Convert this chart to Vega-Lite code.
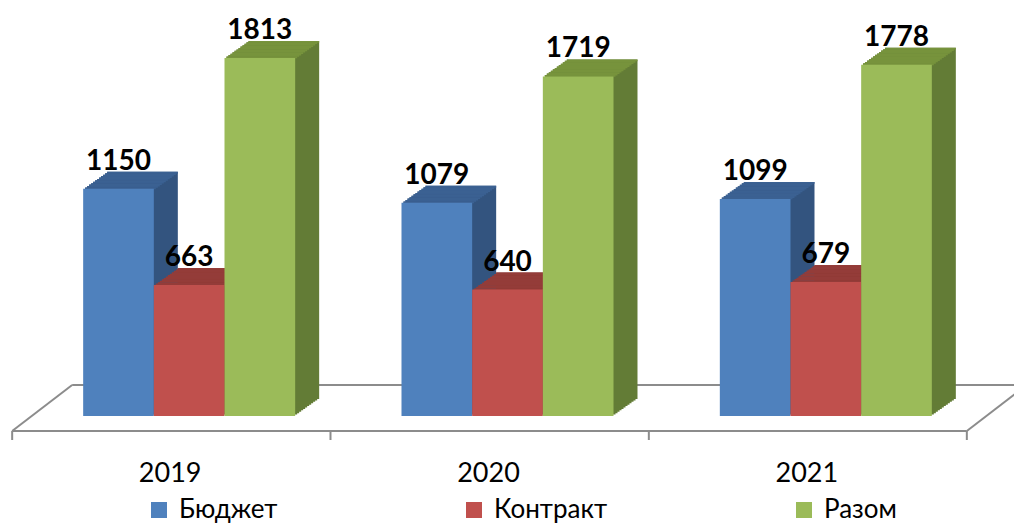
{
  "$schema": "https://vega.github.io/schema/vega-lite/v6.json",
  "width": 955,
  "height": 416,
  "padding": {"left": 30, "top": 0, "right": 29, "bottom": 108},
  "autosize": {"type": "none"},
  "background": "white",
  "config": {
    "view": {"stroke": null},
    "axisX": {"domain": false, "ticks": false, "tickSize": 0, "grid": false, "labelAngle": 0, "labelFont": "Lato", "labelFontSize": 27, "labelColor": "#000000", "labelPadding": 65, "labelBaseline": "alphabetic", "labelOffset": -19}
  },
  "data": {"values": [
    {"year": "2019", "series": "Бюджет", "value": 1150},
    {"year": "2019", "series": "Контракт", "value": 663},
    {"year": "2019", "series": "Разом", "value": 1813},
    {"year": "2020", "series": "Бюджет", "value": 1079},
    {"year": "2020", "series": "Контракт", "value": 640},
    {"year": "2020", "series": "Разом", "value": 1719},
    {"year": "2021", "series": "Бюджет", "value": 1099},
    {"year": "2021", "series": "Контракт", "value": 679},
    {"year": "2021", "series": "Разом", "value": 1778}
  ]},
  "resolve": {"scale": {"xOffset": "independent", "color": "independent"}},
  "layer": [
    {"data": {"values": [{}]}, "mark": {"type": "rule", "color": "#8c8c8c", "strokeWidth": 2, "xOffset": -71, "x2Offset": 35, "yOffset": 15},
     "encoding": {"x": {"datum": "2019", "type": "nominal", "bandPosition": 0, "title": null, "scale": {"paddingInner": 0.334, "paddingOuter": 0.167}}, "x2": {"datum": "2021", "bandPosition": 1}, "y": {"datum": 0, "type": "quantitative", "axis": null, "scale": {"domain": [0, 2106], "nice": false}}}},
    {"data": {"values": [{}]}, "mark": {"type": "rule", "color": "#8c8c8c", "strokeWidth": 2, "xOffset": -11, "x2Offset": 100, "yOffset": -31},
     "encoding": {"x": {"datum": "2019", "type": "nominal", "bandPosition": 0, "title": null}, "x2": {"datum": "2021", "bandPosition": 1}, "y": {"datum": 0, "type": "quantitative", "axis": null, "scale": {"domain": [0, 2106], "nice": false}}}},
    {"data": {"values": [{}]}, "mark": {"type": "rule", "color": "#8c8c8c", "strokeWidth": 2, "xOffset": -71, "x2Offset": -11, "yOffset": 15, "y2Offset": -31},
     "encoding": {"x": {"datum": "2019", "type": "nominal", "bandPosition": 0, "title": null}, "x2": {"datum": "2019", "bandPosition": 0}, "y": {"datum": 0, "type": "quantitative", "axis": null, "scale": {"domain": [0, 2106], "nice": false}}, "y2": {"datum": 0}}},
    {"data": {"values": [{}]}, "mark": {"type": "rule", "color": "#8c8c8c", "strokeWidth": 2, "xOffset": 35, "x2Offset": 95, "yOffset": 15, "y2Offset": -31},
     "encoding": {"x": {"datum": "2021", "type": "nominal", "bandPosition": 1, "title": null}, "x2": {"datum": "2021", "bandPosition": 1}, "y": {"datum": 0, "type": "quantitative", "axis": null, "scale": {"domain": [0, 2106], "nice": false}}, "y2": {"datum": 0}}},
    {"data": {"values": [{"year": "2019"}, {"year": "2020"}, {"year": "2021"}]}, "mark": {"type": "rule", "color": "#8c8c8c", "strokeWidth": 2, "xOffset": -71, "yOffset": 15, "y2Offset": 24},
     "encoding": {"x": {"field": "year", "type": "nominal", "bandPosition": 0, "title": null}, "y": {"datum": 0, "type": "quantitative", "axis": null, "scale": {"domain": [0, 2106], "nice": false}}, "y2": {"datum": 0}}},
    {"data": {"values": [{}]}, "mark": {"type": "rule", "color": "#8c8c8c", "strokeWidth": 2, "xOffset": 35, "yOffset": 15, "y2Offset": 24},
     "encoding": {"x": {"datum": "2021", "type": "nominal", "bandPosition": 1, "title": null}, "y": {"datum": 0, "type": "quantitative", "axis": null, "scale": {"domain": [0, 2106], "nice": false}}, "y2": {"datum": 0}}},

    {"mark": {"type": "bar", "yOffset": -1.417, "y2Offset": -1.417}, "encoding": {"x": {"field": "year", "type": "nominal", "title": null}, "xOffset": {"field": "series", "type": "nominal", "scale": {"range": [2, 214]}}, "y": {"field": "value", "type": "quantitative", "axis": null, "scale": {"domain": [0, 2106], "nice": false}}, "y2": {"datum": 0}, "color": {"field": "series", "type": "nominal", "scale": {"range": ["#33547f", "#7f302e", "#637c36"]}, "legend": null}}},
    {"mark": {"type": "bar", "yOffset": -2.833, "y2Offset": -2.833}, "encoding": {"x": {"field": "year", "type": "nominal", "title": null}, "xOffset": {"field": "series", "type": "nominal", "scale": {"range": [4, 216]}}, "y": {"field": "value", "type": "quantitative", "axis": null, "scale": {"domain": [0, 2106], "nice": false}}, "y2": {"datum": 0}, "color": {"field": "series", "type": "nominal", "scale": {"range": ["#33547f", "#7f302e", "#637c36"]}, "legend": null}}},
    {"mark": {"type": "bar", "yOffset": -4.25, "y2Offset": -4.25}, "encoding": {"x": {"field": "year", "type": "nominal", "title": null}, "xOffset": {"field": "series", "type": "nominal", "scale": {"range": [6, 218]}}, "y": {"field": "value", "type": "quantitative", "axis": null, "scale": {"domain": [0, 2106], "nice": false}}, "y2": {"datum": 0}, "color": {"field": "series", "type": "nominal", "scale": {"range": ["#33547f", "#7f302e", "#637c36"]}, "legend": null}}},
    {"mark": {"type": "bar", "yOffset": -5.667, "y2Offset": -5.667}, "encoding": {"x": {"field": "year", "type": "nominal", "title": null}, "xOffset": {"field": "series", "type": "nominal", "scale": {"range": [8, 220]}}, "y": {"field": "value", "type": "quantitative", "axis": null, "scale": {"domain": [0, 2106], "nice": false}}, "y2": {"datum": 0}, "color": {"field": "series", "type": "nominal", "scale": {"range": ["#33547f", "#7f302e", "#637c36"]}, "legend": null}}},
    {"mark": {"type": "bar", "yOffset": -7.083, "y2Offset": -7.083}, "encoding": {"x": {"field": "year", "type": "nominal", "title": null}, "xOffset": {"field": "series", "type": "nominal", "scale": {"range": [10, 222]}}, "y": {"field": "value", "type": "quantitative", "axis": null, "scale": {"domain": [0, 2106], "nice": false}}, "y2": {"datum": 0}, "color": {"field": "series", "type": "nominal", "scale": {"range": ["#33547f", "#7f302e", "#637c36"]}, "legend": null}}},
    {"mark": {"type": "bar", "yOffset": -8.5, "y2Offset": -8.5}, "encoding": {"x": {"field": "year", "type": "nominal", "title": null}, "xOffset": {"field": "series", "type": "nominal", "scale": {"range": [12, 224]}}, "y": {"field": "value", "type": "quantitative", "axis": null, "scale": {"domain": [0, 2106], "nice": false}}, "y2": {"datum": 0}, "color": {"field": "series", "type": "nominal", "scale": {"range": ["#33547f", "#7f302e", "#637c36"]}, "legend": null}}},
    {"mark": {"type": "bar", "yOffset": -9.917, "y2Offset": -9.917}, "encoding": {"x": {"field": "year", "type": "nominal", "title": null}, "xOffset": {"field": "series", "type": "nominal", "scale": {"range": [14, 226]}}, "y": {"field": "value", "type": "quantitative", "axis": null, "scale": {"domain": [0, 2106], "nice": false}}, "y2": {"datum": 0}, "color": {"field": "series", "type": "nominal", "scale": {"range": ["#33547f", "#7f302e", "#637c36"]}, "legend": null}}},
    {"mark": {"type": "bar", "yOffset": -11.333, "y2Offset": -11.333}, "encoding": {"x": {"field": "year", "type": "nominal", "title": null}, "xOffset": {"field": "series", "type": "nominal", "scale": {"range": [16, 228]}}, "y": {"field": "value", "type": "quantitative", "axis": null, "scale": {"domain": [0, 2106], "nice": false}}, "y2": {"datum": 0}, "color": {"field": "series", "type": "nominal", "scale": {"range": ["#33547f", "#7f302e", "#637c36"]}, "legend": null}}},
    {"mark": {"type": "bar", "yOffset": -12.75, "y2Offset": -12.75}, "encoding": {"x": {"field": "year", "type": "nominal", "title": null}, "xOffset": {"field": "series", "type": "nominal", "scale": {"range": [18, 230]}}, "y": {"field": "value", "type": "quantitative", "axis": null, "scale": {"domain": [0, 2106], "nice": false}}, "y2": {"datum": 0}, "color": {"field": "series", "type": "nominal", "scale": {"range": ["#33547f", "#7f302e", "#637c36"]}, "legend": null}}},
    {"mark": {"type": "bar", "yOffset": -14.167, "y2Offset": -14.167}, "encoding": {"x": {"field": "year", "type": "nominal", "title": null}, "xOffset": {"field": "series", "type": "nominal", "scale": {"range": [20, 232]}}, "y": {"field": "value", "type": "quantitative", "axis": null, "scale": {"domain": [0, 2106], "nice": false}}, "y2": {"datum": 0}, "color": {"field": "series", "type": "nominal", "scale": {"range": ["#33547f", "#7f302e", "#637c36"]}, "legend": null}}},
    {"mark": {"type": "bar", "yOffset": -15.583, "y2Offset": -15.583}, "encoding": {"x": {"field": "year", "type": "nominal", "title": null}, "xOffset": {"field": "series", "type": "nominal", "scale": {"range": [22, 234]}}, "y": {"field": "value", "type": "quantitative", "axis": null, "scale": {"domain": [0, 2106], "nice": false}}, "y2": {"datum": 0}, "color": {"field": "series", "type": "nominal", "scale": {"range": ["#33547f", "#7f302e", "#637c36"]}, "legend": null}}},
    {"mark": {"type": "bar", "yOffset": -17, "y2Offset": -17}, "encoding": {"x": {"field": "year", "type": "nominal", "title": null}, "xOffset": {"field": "series", "type": "nominal", "scale": {"range": [24, 236]}}, "y": {"field": "value", "type": "quantitative", "axis": null, "scale": {"domain": [0, 2106], "nice": false}}, "y2": {"datum": 0}, "color": {"field": "series", "type": "nominal", "scale": {"range": ["#33547f", "#7f302e", "#637c36"]}, "legend": null}}},

    {"mark": {"type": "bar", "yOffset": -1.417, "y2Offset": 0.4}, "encoding": {"x": {"field": "year", "type": "nominal", "title": null}, "xOffset": {"field": "series", "type": "nominal", "scale": {"range": [2, 214]}}, "y": {"field": "value", "type": "quantitative", "axis": null, "scale": {"domain": [0, 2106], "nice": false}}, "y2": {"field": "value"}, "color": {"field": "series", "type": "nominal", "scale": {"range": ["#3b6192", "#943c39", "#77933c"]}, "legend": null}}},
    {"mark": {"type": "bar", "yOffset": -2.833, "y2Offset": -1.017}, "encoding": {"x": {"field": "year", "type": "nominal", "title": null}, "xOffset": {"field": "series", "type": "nominal", "scale": {"range": [4, 216]}}, "y": {"field": "value", "type": "quantitative", "axis": null, "scale": {"domain": [0, 2106], "nice": false}}, "y2": {"field": "value"}, "color": {"field": "series", "type": "nominal", "scale": {"range": ["#3b6192", "#943c39", "#77933c"]}, "legend": null}}},
    {"mark": {"type": "bar", "yOffset": -4.25, "y2Offset": -2.433}, "encoding": {"x": {"field": "year", "type": "nominal", "title": null}, "xOffset": {"field": "series", "type": "nominal", "scale": {"range": [6, 218]}}, "y": {"field": "value", "type": "quantitative", "axis": null, "scale": {"domain": [0, 2106], "nice": false}}, "y2": {"field": "value"}, "color": {"field": "series", "type": "nominal", "scale": {"range": ["#3b6192", "#943c39", "#77933c"]}, "legend": null}}},
    {"mark": {"type": "bar", "yOffset": -5.667, "y2Offset": -3.85}, "encoding": {"x": {"field": "year", "type": "nominal", "title": null}, "xOffset": {"field": "series", "type": "nominal", "scale": {"range": [8, 220]}}, "y": {"field": "value", "type": "quantitative", "axis": null, "scale": {"domain": [0, 2106], "nice": false}}, "y2": {"field": "value"}, "color": {"field": "series", "type": "nominal", "scale": {"range": ["#3b6192", "#943c39", "#77933c"]}, "legend": null}}},
    {"mark": {"type": "bar", "yOffset": -7.083, "y2Offset": -5.267}, "encoding": {"x": {"field": "year", "type": "nominal", "title": null}, "xOffset": {"field": "series", "type": "nominal", "scale": {"range": [10, 222]}}, "y": {"field": "value", "type": "quantitative", "axis": null, "scale": {"domain": [0, 2106], "nice": false}}, "y2": {"field": "value"}, "color": {"field": "series", "type": "nominal", "scale": {"range": ["#3b6192", "#943c39", "#77933c"]}, "legend": null}}},
    {"mark": {"type": "bar", "yOffset": -8.5, "y2Offset": -6.683}, "encoding": {"x": {"field": "year", "type": "nominal", "title": null}, "xOffset": {"field": "series", "type": "nominal", "scale": {"range": [12, 224]}}, "y": {"field": "value", "type": "quantitative", "axis": null, "scale": {"domain": [0, 2106], "nice": false}}, "y2": {"field": "value"}, "color": {"field": "series", "type": "nominal", "scale": {"range": ["#3b6192", "#943c39", "#77933c"]}, "legend": null}}},
    {"mark": {"type": "bar", "yOffset": -9.917, "y2Offset": -8.1}, "encoding": {"x": {"field": "year", "type": "nominal", "title": null}, "xOffset": {"field": "series", "type": "nominal", "scale": {"range": [14, 226]}}, "y": {"field": "value", "type": "quantitative", "axis": null, "scale": {"domain": [0, 2106], "nice": false}}, "y2": {"field": "value"}, "color": {"field": "series", "type": "nominal", "scale": {"range": ["#3b6192", "#943c39", "#77933c"]}, "legend": null}}},
    {"mark": {"type": "bar", "yOffset": -11.333, "y2Offset": -9.517}, "encoding": {"x": {"field": "year", "type": "nominal", "title": null}, "xOffset": {"field": "series", "type": "nominal", "scale": {"range": [16, 228]}}, "y": {"field": "value", "type": "quantitative", "axis": null, "scale": {"domain": [0, 2106], "nice": false}}, "y2": {"field": "value"}, "color": {"field": "series", "type": "nominal", "scale": {"range": ["#3b6192", "#943c39", "#77933c"]}, "legend": null}}},
    {"mark": {"type": "bar", "yOffset": -12.75, "y2Offset": -10.933}, "encoding": {"x": {"field": "year", "type": "nominal", "title": null}, "xOffset": {"field": "series", "type": "nominal", "scale": {"range": [18, 230]}}, "y": {"field": "value", "type": "quantitative", "axis": null, "scale": {"domain": [0, 2106], "nice": false}}, "y2": {"field": "value"}, "color": {"field": "series", "type": "nominal", "scale": {"range": ["#3b6192", "#943c39", "#77933c"]}, "legend": null}}},
    {"mark": {"type": "bar", "yOffset": -14.167, "y2Offset": -12.35}, "encoding": {"x": {"field": "year", "type": "nominal", "title": null}, "xOffset": {"field": "series", "type": "nominal", "scale": {"range": [20, 232]}}, "y": {"field": "value", "type": "quantitative", "axis": null, "scale": {"domain": [0, 2106], "nice": false}}, "y2": {"field": "value"}, "color": {"field": "series", "type": "nominal", "scale": {"range": ["#3b6192", "#943c39", "#77933c"]}, "legend": null}}},
    {"mark": {"type": "bar", "yOffset": -15.583, "y2Offset": -13.767}, "encoding": {"x": {"field": "year", "type": "nominal", "title": null}, "xOffset": {"field": "series", "type": "nominal", "scale": {"range": [22, 234]}}, "y": {"field": "value", "type": "quantitative", "axis": null, "scale": {"domain": [0, 2106], "nice": false}}, "y2": {"field": "value"}, "color": {"field": "series", "type": "nominal", "scale": {"range": ["#3b6192", "#943c39", "#77933c"]}, "legend": null}}},
    {"mark": {"type": "bar", "yOffset": -17, "y2Offset": -15.183}, "encoding": {"x": {"field": "year", "type": "nominal", "title": null}, "xOffset": {"field": "series", "type": "nominal", "scale": {"range": [24, 236]}}, "y": {"field": "value", "type": "quantitative", "axis": null, "scale": {"domain": [0, 2106], "nice": false}}, "y2": {"field": "value"}, "color": {"field": "series", "type": "nominal", "scale": {"range": ["#3b6192", "#943c39", "#77933c"]}, "legend": null}}},

    {"mark": {"type": "bar"},
     "encoding": {
       "x": {"field": "year", "type": "nominal", "title": null, "scale": {"paddingInner": 0.334, "paddingOuter": 0.167}},
       "xOffset": {"field": "series", "type": "nominal"},
       "y": {"field": "value", "type": "quantitative", "axis": null, "scale": {"domain": [0, 2106], "nice": false}},
       "y2": {"datum": 0},
       "color": {"field": "series", "type": "nominal", "scale": {"range": ["#4f81bd", "#c0504d", "#9bbb59"]},
                 "legend": {"orient": "none", "legendX": 116, "legendY": 497, "direction": "horizontal", "columns": 3, "title": null, "symbolType": "square", "symbolSize": 256, "symbolStrokeWidth": 0, "symbolOpacity": 1, "labelFont": "Lato", "labelFontSize": 26, "labelColor": "#000000", "columnPadding": 183, "labelOffset": 7, "padding": 0}}
     }},
    {"mark": {"type": "text", "font": "Lato", "fontWeight": "bold", "fontSize": 28, "baseline": "alphabetic", "dy": -19, "color": "#000000"},
     "encoding": {
       "x": {"field": "year", "type": "nominal", "title": null},
       "xOffset": {"field": "series", "type": "nominal"},
       "y": {"field": "value", "type": "quantitative", "axis": null, "scale": {"domain": [0, 2106], "nice": false}},
       "text": {"field": "value", "type": "quantitative", "format": "d"}
     }}
  ]
}
